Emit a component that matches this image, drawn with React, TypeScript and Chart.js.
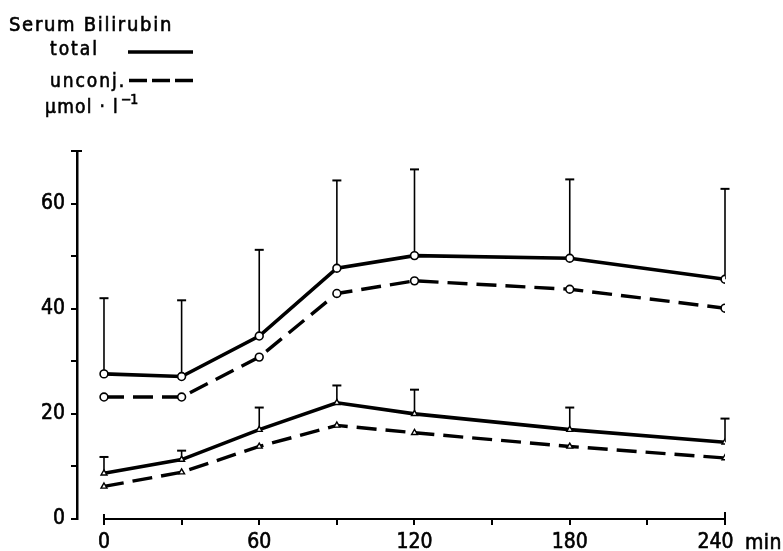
import React, { useEffect, useRef } from "react";
import { Chart, registerables } from "chart.js";

Chart.register(...registerables);

// ---- data ----
const times = [0, 30, 60, 90, 120, 180, 240];
// upper group (circles)
const totalCircle = [27.6, 27.1, 34.8, 47.7, 50.1, 49.6, 45.6];
const totalCircleUpper = [42.0, 41.6, 51.2, 64.4, 66.5, 64.6, 62.8];
const unconjCircle = [23.2, 23.2, 30.8, 42.9, 45.3, 43.7, 40.1];
// lower group (triangles)
const totalTri = [8.7, 11.3, 17.0, 22.1, 20.0, 17.0, 14.6];
const totalTriUpper = [11.8, 13.0, 21.2, 25.4, 24.6, 21.2, 19.1];
const unconjTri = [6.2, 8.9, 13.8, 17.8, 16.4, 13.8, 11.6];

const xTicks = [0, 30, 60, 90, 120, 150, 180, 210, 240];
const xLabels = [0, 60, 120, 180, 240];
const yTicks = [0, 10, 20, 30, 40, 50, 60, 70];
const yLabels = [0, 20, 40, 60];

const titleText = "Serum Bilirubin";
const legendTotal = "total";
const legendUnconj = "unconj.";
const unitText = "\u00b5mol \u00b7 l";
const unitSup = "\u22121";
const xUnit = "min";

const FONT = "'DejaVu Sans Condensed', 'DejaVu Sans', sans-serif";

const pts = (vals: number[]) => times.map((t, i) => ({ x: t, y: vals[i] }));

// draw text letter-spaced to a given width, slightly emboldened
function spacedText(ctx: any, text: string, x: number, y: number, width: number) {
  ctx.letterSpacing = "0px";
  const w = ctx.measureText(text).width;
  const n = [...text].length;
  const sp = n > 1 ? (width - w) / n : 0;
  ctx.letterSpacing = `${sp}px`;
  ctx.fillText(text, x, y);
  ctx.lineWidth = 0.6;
  ctx.strokeText(text, x, y);
  ctx.letterSpacing = "0px";
}

const overlay = {
  id: "overlay",
  beforeDatasetsDraw(chart: any) {
    const { ctx, scales, chartArea } = chart;
    const x = scales.x;
    const y = scales.y;
    ctx.save();
    ctx.strokeStyle = "#000";
    ctx.lineCap = "butt";
    // x axis line
    const x0 = x.getPixelForValue(0);
    const x1 = x.getPixelForValue(240);
    const yb = chartArea.bottom;
    ctx.lineWidth = 2;
    ctx.beginPath();
    ctx.moveTo(x0, yb);
    ctx.lineTo(x1, yb);
    ctx.stroke();
    // end caps of x axis (up)
    ctx.beginPath();
    ctx.moveTo(x0, yb - 5);
    ctx.lineTo(x0, yb);
    ctx.moveTo(x1, yb - 7);
    ctx.lineTo(x1, yb);
    ctx.stroke();
    // top cap of y axis
    const yTop = y.getPixelForValue(70);
    ctx.beginPath();
    ctx.moveTo(chartArea.left - 6, yTop);
    ctx.lineTo(chartArea.left + 5, yTop);
    ctx.stroke();
    // error bars
    const bars: [number[], number[]][] = [
      [totalCircle, totalCircleUpper],
      [totalTri, totalTriUpper],
    ];
    for (const [vals, ups] of bars) {
      times.forEach((t, i) => {
        const px = x.getPixelForValue(t);
        const py0 = y.getPixelForValue(vals[i]);
        const py1 = y.getPixelForValue(ups[i]);
        ctx.lineWidth = 1.6;
        ctx.beginPath();
        ctx.moveTo(px, py0);
        ctx.lineTo(px, py1);
        ctx.stroke();
        ctx.lineWidth = 2;
        ctx.beginPath();
        ctx.moveTo(px - 4.5, py1);
        ctx.lineTo(px + 4.5, py1);
        ctx.stroke();
      });
    }
    ctx.restore();
  },
  afterDraw(chart: any) {
    const { ctx } = chart;
    ctx.save();
    ctx.fillStyle = "#000";
    ctx.strokeStyle = "#000";
    ctx.textBaseline = "alphabetic";
    ctx.textAlign = "left";
    ctx.font = `20px ${FONT}`;
    spacedText(ctx, titleText, 9, 31, 164);
    ctx.font = `19px ${FONT}`;
    spacedText(ctx, legendTotal, 50, 55, 49);
    spacedText(ctx, legendUnconj, 50, 87, 76);
    spacedText(ctx, unitText, 45, 113, 74);
    ctx.font = `14px ${FONT}`;
    spacedText(ctx, unitSup, 121, 104, 16);
    // legend lines
    ctx.lineWidth = 3.5;
    ctx.beginPath();
    ctx.moveTo(128, 52);
    ctx.lineTo(193, 52);
    ctx.stroke();
    ctx.setLineDash([18, 5]);
    ctx.beginPath();
    ctx.moveTo(129, 80.5);
    ctx.lineTo(194, 80.5);
    ctx.stroke();
    ctx.setLineDash([]);
    // x unit
    ctx.font = `21px ${FONT}`;
    spacedText(ctx, xUnit, 745, 549, 37);
    ctx.restore();
  },
};

export default function App() {
  const ref = useRef<HTMLCanvasElement | null>(null);
  useEffect(() => {
    if (!ref.current) return;
    const circle = {
      pointStyle: "circle" as const,
      pointRadius: 3.9,
      pointBackgroundColor: "#fff",
      pointBorderColor: "#000",
      pointBorderWidth: 1.6,
    };
    const tri = {
      pointStyle: "triangle" as const,
      pointRadius: 3.4,
      pointBackgroundColor: "#fff",
      pointBorderColor: "#000",
      pointBorderWidth: 1.4,
    };
    const tickFont = { family: FONT, size: 21 };
    const chart = new Chart(ref.current, {
      type: "line",
      data: {
        datasets: [
          { label: "total", data: pts(totalCircle), borderColor: "#000", borderWidth: 3.6, ...circle },
          { label: "unconj.", data: pts(unconjCircle), borderColor: "#000", borderWidth: 3.4, borderDash: [20, 9], ...circle },
          { label: "total", data: pts(totalTri), borderColor: "#000", borderWidth: 3.6, ...tri },
          { label: "unconj.", data: pts(unconjTri), borderColor: "#000", borderWidth: 3.4, borderDash: [20, 9], ...tri },
        ] as any,
      },
      options: {
        animation: false,
        responsive: true,
        maintainAspectRatio: false,
        layout: { padding: { left: 0, top: 151, right: 58, bottom: 0 } },
        plugins: { legend: { display: false }, tooltip: { enabled: false }, title: { display: false } },
        elements: { line: { tension: 0 } },
        scales: {
          x: {
            type: "linear",
            min: -10.43,
            max: 240,
            afterBuildTicks: (s: any) => {
              s.ticks = xTicks.map((v) => ({ value: v }));
            },
            afterFit: (s: any) => {
              s.height = 32;
            },
            border: { display: false },
            grid: { drawOnChartArea: false, drawTicks: true, tickLength: 6, color: "#000", lineWidth: 2 },
            ticks: {
              color: "#000",
              font: tickFont,
              textStrokeColor: "#000",
              textStrokeWidth: 0.6,
              padding: 5,
              maxRotation: 0,
              autoSkip: false,
              // last label is set slightly left of its tick (room for the unit), as in the original
              callback: (v: any) =>
                xLabels.includes(Number(v)) ? (Number(v) === 240 ? "240\u2002\u2002" : String(v)) : "",
            },
          },
          y: {
            type: "linear",
            min: 0,
            max: 70,
            afterBuildTicks: (s: any) => {
              s.ticks = yTicks.map((v) => ({ value: v }));
            },
            afterFit: (s: any) => {
              s.width = 77;
            },
            border: { display: true, color: "#000", width: 2.5 },
            grid: { drawOnChartArea: false, drawTicks: true, tickLength: 6, color: "#000", lineWidth: 2 },
            ticks: {
              color: "#000",
              font: tickFont,
              textStrokeColor: "#000",
              textStrokeWidth: 0.6,
              padding: 6,
              autoSkip: false,
              callback: (v: any) => (yLabels.includes(Number(v)) ? String(v) : ""),
            },
          },
        },
      },
      plugins: [overlay],
    } as any);
    return () => chart.destroy();
  }, []);
  return (
    <div style={{ position: "fixed", left: 0, top: 0, width: 783, height: 551, background: "#fff" }}>
      <canvas ref={ref} />
    </div>
  );
}
